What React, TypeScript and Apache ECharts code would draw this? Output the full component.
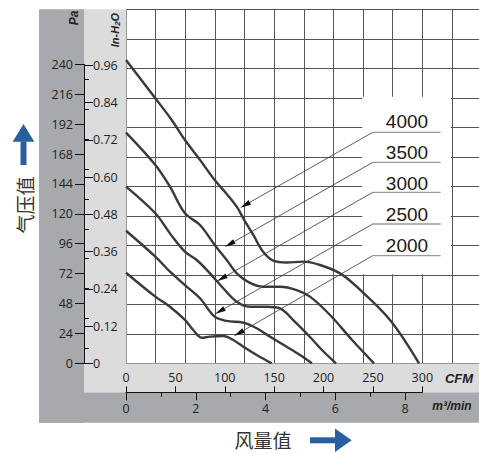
import React, { useEffect, useRef } from "react";
import * as echarts from "echarts";

// ---- data (CFM, Pa) ----
const SPEEDS = ["4000", "3500", "3000", "2500", "2000"];
const CURVE_4000 = [
  [0, 243.5], [29.7, 212.7], [46.3, 195.3], [59.7, 179.2], [74.9, 163.3], [89.8, 147.1],
  [102.0, 135.9], [112.1, 125.7], [119.8, 115.0], [128.9, 103.0], [139.0, 89.3], [149.1, 82.4],
  [162.7, 80.9], [179.5, 81.6], [196.4, 78.9], [216.7, 72.2], [233.6, 61.5], [267.3, 34.8], [296.7, 0],
];
const CURVE_3500 = [
  [0, 185.1], [29.7, 159.2], [44.5, 141.8], [59.7, 120.4], [74.9, 111.0], [89.8, 95.0],
  [102.0, 82.9], [112.1, 72.2], [125.5, 64.5], [139.0, 61.5], [155.9, 61.5], [172.8, 58.8],
  [186.3, 53.5], [206.6, 38.8], [228.9, 18.7], [251.1, 0],
];
const CURVE_3000 = [
  [0, 141.8], [29.7, 120.4], [44.5, 104.3], [59.7, 89.6], [71.6, 82.9], [85.0, 72.2],
  [98.5, 60.2], [112.1, 49.4], [125.5, 45.4], [142.5, 45.4], [155.9, 44.1], [171.1, 33.2],
  [186.3, 21.1], [198.4, 10.7], [212.6, 0],
];
const CURVE_2500 = [
  [0, 106.4], [29.7, 85.6], [44.5, 73.5], [59.7, 62.8], [74.9, 52.2], [89.8, 37.4],
  [102.0, 34.0], [118.8, 32.6], [132.3, 28.1], [145.8, 21.4], [162.7, 13.3], [176.2, 6.7], [188.3, 0],
];
const CURVE_2000 = [
  [0, 72.7], [29.7, 53.5], [44.5, 45.4], [59.7, 34.8], [68.1, 26.7], [76.6, 20.5],
  [85.0, 21.4], [98.5, 21.9], [108.6, 18.7], [118.8, 13.3], [132.3, 6.7], [147.5, 0],
];
const CURVES = [CURVE_4000, CURVE_3500, CURVE_3000, CURVE_2500, CURVE_2000];

// annotation anchors (CFM, Pa)
const LABEL_CFM = 284.5;
const LABEL_PA = [193.9, 169.2, 144.7, 119.8, 94.3];
const UNDERLINE_CFM = [249.8, 318.6];
const UNDERLINE_PA = [185.4, 161.3, 137.2, 111.8, 86.4];
const ARROW_TIPS = [[115.7, 124.8], [100.0, 93.3], [92.1, 65.9], [90.1, 39.6], [109.3, 21.9]];
const LEGEND_BOX = [[239.2, 214.0], [328.7, 71.4]];

// axes
const PA_MAX = 240;
const PA_STEP = 24;
const INH2O_MAX = 0.96;
const INH2O_STEP = 0.12;
const CFM_MAX = 300;
const CFM_STEP = 50;
const M3_MAX = 8;
const M3_STEP = 2;
const GRID_X_MAX = 357.41;
const GRID_X_STEP = 30;
const GRID_Y_STEP = 23.679;
const GRID_Y_MAX = GRID_Y_STEP * 12;

const TICK_FONT = { fontSize: 12.5, color: "#231f20", fontFamily: "Open Sans" };
const BLUE = "#2a5f9f";

export default function App() {
  const ref = useRef<HTMLDivElement>(null);
  useEffect(() => {
    const chart = echarts.init(ref.current!, undefined, { renderer: "svg" });
    const hiddenX = (g: number) => ({ gridIndex: g, type: "value", min: 0, max: 1, show: false });
    const hiddenY = (g: number) => ({ gridIndex: g, type: "value", min: 0, max: 1, show: false });
    const option: any = {
      animation: false,
      textStyle: { fontFamily: "Open Sans" },
      grid: [
        { left: 126, top: 9.3, width: 353, height: 354, outerBoundsMode: "none", containLabel: false },
        { left: 84, top: 64.3, width: 1, height: 299, outerBoundsMode: "none" },
        { left: 84, top: 65.35, width: 1, height: 297.95, outerBoundsMode: "none" },
        { left: 126, top: 391.3, width: 296.3, height: 1, outerBoundsMode: "none" },
        { left: 126, top: 391.3, width: 279.0, height: 1, outerBoundsMode: "none" },
      ],
      xAxis: [
        {
          gridIndex: 0, type: "value", min: 0, max: GRID_X_MAX, interval: GRID_X_STEP,
          axisLabel: { show: false }, axisTick: { show: false },
          axisLine: { show: true, lineStyle: { color: "#999", width: 1 } },
          splitLine: { show: true, lineStyle: { color: "#555", width: 1 } },
        },
        hiddenX(1),
        hiddenX(2),
        {
          gridIndex: 3, type: "value", min: 0, max: CFM_MAX, interval: CFM_STEP, position: "bottom",
          axisLine: { show: true, lineStyle: { color: "#111", width: 1 } },
          axisTick: { show: true, inside: true, length: 6, lineStyle: { color: "#111" } },
          axisLabel: { inside: true, margin: 8, ...TICK_FONT },
          splitLine: { show: false },
        },
        {
          gridIndex: 4, type: "value", min: 0, max: M3_MAX, interval: M3_STEP, position: "bottom",
          axisLine: { show: false },
          axisTick: { show: true, length: 8, lineStyle: { color: "#111" } },
          minorTick: { show: true, splitNumber: 2, length: 4.5, lineStyle: { color: "#111" } },
          axisLabel: { margin: 10, ...TICK_FONT },
          splitLine: { show: false }, minorSplitLine: { show: false },
        },
      ],
      yAxis: [
        {
          gridIndex: 0, type: "value", min: 0, max: GRID_Y_MAX, interval: GRID_Y_STEP,
          axisLabel: { show: false }, axisTick: { show: false },
          axisLine: { show: true, lineStyle: { color: "#999", width: 1 } },
          splitLine: { show: true, lineStyle: { color: "#555", width: 1 } },
        },
        {
          gridIndex: 1, type: "value", min: 0, max: PA_MAX, interval: PA_STEP, position: "left",
          axisLine: { show: true, lineStyle: { color: "#111", width: 1 } },
          axisTick: { show: true, length: 9, lineStyle: { color: "#111" } },
          axisLabel: { margin: 11, ...TICK_FONT },
          splitLine: { show: false },
        },
        {
          gridIndex: 1, type: "value", min: 0, max: PA_MAX, interval: PA_STEP, position: "left",
          axisLine: { show: false },
          axisTick: { show: false, inside: true },
          minorTick: { show: true, splitNumber: 2, length: 5, lineStyle: { color: "#111" } },
          axisLabel: { show: false },
          splitLine: { show: false }, minorSplitLine: { show: false },
        },
        {
          gridIndex: 2, type: "value", min: 0, max: INH2O_MAX, interval: INH2O_STEP, position: "left",
          axisLine: { show: false },
          axisTick: { show: true, inside: true, length: 9, lineStyle: { color: "#111" } },
          axisLabel: {
            inside: true, margin: 9, ...TICK_FONT,
            formatter: (v: number) => (v === 0 ? "0" : v.toFixed(2)),
          },
          splitLine: { show: false },
        },
        hiddenY(3),
        hiddenY(4),
      ],
      graphic: [
        { type: "rect", z: -10, shape: { x: 39, y: 9.3, width: 45, height: 413.4 }, style: { fill: "#a8a9ac" } },
        { type: "rect", z: -10, shape: { x: 39, y: 392.3, width: 440, height: 30.4 }, style: { fill: "#a8a9ac" } },
        { type: "rect", z: -10, shape: { x: 84, y: 9.3, width: 42, height: 383 }, style: { fill: "#dcdcdd" } },
        { type: "rect", z: -10, shape: { x: 84, y: 363.3, width: 395, height: 29 }, style: { fill: "#dcdcdd" } },
        {
          type: "text", x: 74, y: 18, rotation: Math.PI / 2, z: 5,
          style: { text: "Pa", fontSize: 12, fontWeight: "bold", fontStyle: "italic", fontFamily: "Liberation Sans", fill: "#222", align: "center", verticalAlign: "middle" },
        },
        {
          type: "text", x: 115, y: 30, rotation: Math.PI / 2, z: 5,
          style: {
            text: "{a|In-H}{b|2}{a|O}", align: "center", verticalAlign: "middle",
            rich: {
              a: { fontSize: 11, fontWeight: "bold", fontStyle: "italic", fontFamily: "Liberation Sans", fill: "#222" },
              b: { fontSize: 8, fontWeight: "bold", fontStyle: "italic", fontFamily: "Liberation Sans", fill: "#222", verticalAlign: "bottom", padding: [4, 0, 0, 0] },
            },
          },
        },
        {
          type: "text", x: 459, y: 378, z: 5,
          style: { text: "CFM", fontSize: 13, fontWeight: "bold", fontStyle: "italic", fontFamily: "Liberation Sans", fill: "#222", align: "center", verticalAlign: "middle" },
        },
        {
          type: "text", x: 452, y: 406, z: 5,
          style: { text: "m³/min", fontSize: 12, fontWeight: "bold", fontStyle: "italic", fontFamily: "Liberation Sans", fill: "#222", align: "center", verticalAlign: "middle" },
        },
        {
          type: "text", x: 24, y: 205, rotation: Math.PI / 2, z: 5,
          style: { text: "气压值", fontSize: 19, fontFamily: "Noto Sans CJK SC", fill: "#333", align: "center", verticalAlign: "middle" },
        },
        {
          type: "text", x: 263, y: 439, z: 5,
          style: { text: "风量值", fontSize: 19, fontFamily: "Noto Sans CJK SC", fill: "#333", align: "center", verticalAlign: "middle" },
        },
        { type: "polygon", z: 5, shape: { points: [[23.5, 124], [12.7, 141.7], [34.3, 141.7]] }, style: { fill: BLUE } },
        { type: "rect", z: 5, shape: { x: 20.5, y: 141.5, width: 6, height: 23.5 }, style: { fill: BLUE } },
        { type: "rect", z: 5, shape: { x: 310, y: 437.3, width: 25.5, height: 6 }, style: { fill: BLUE } },
        { type: "polygon", z: 5, shape: { points: [[351.7, 440.3], [335, 428.5], [335, 452.1]] }, style: { fill: BLUE } },
      ],
      series: [
        {
          type: "custom", xAxisIndex: 0, yAxisIndex: 0, z: 1, silent: true,
          data: [[0]],
          renderItem: (_p: any, api: any) => {
            const a = api.coord(LEGEND_BOX[0]);
            const b = api.coord(LEGEND_BOX[1]);
            return {
              type: "rect",
              shape: { x: a[0], y: a[1], width: b[0] - a[0], height: b[1] - a[1] },
              style: { fill: "#ffffff" },
            };
          },
        },
        ...CURVES.map((c, i) => ({
          type: "line", name: SPEEDS[i], xAxisIndex: 0, yAxisIndex: 0,
          data: c, smooth: 0.35, symbol: "none",
          lineStyle: { color: "#3a3a3a", width: 2.4 },
        })),
        {
          type: "custom", xAxisIndex: 0, yAxisIndex: 0, z: 3, silent: true,
          data: SPEEDS.map((_, i) => [i]),
          renderItem: (_p: any, api: any) => {
            const i = api.value(0);
            const tip = api.coord(ARROW_TIPS[i]);
            const ul = api.coord([UNDERLINE_CFM[0], UNDERLINE_PA[i]]);
            const ur = api.coord([UNDERLINE_CFM[1], UNDERLINE_PA[i]]);
            const lab = api.coord([LABEL_CFM, LABEL_PA[i]]);
            const dx = tip[0] - ul[0];
            const dy = tip[1] - ul[1];
            const len = Math.hypot(dx, dy);
            const ux = dx / len, uy = dy / len;
            const L = 11, W = 2.6;
            const base = [tip[0] - ux * L, tip[1] - uy * L];
            const p1 = [base[0] - uy * W, base[1] + ux * W];
            const p2 = [base[0] + uy * W, base[1] - ux * W];
            return {
              type: "group",
              children: [
                { type: "line", shape: { x1: ul[0], y1: ul[1], x2: ur[0], y2: ur[1] }, style: { stroke: "#9a9a9a", lineWidth: 1.3 } },
                { type: "line", shape: { x1: ul[0], y1: ul[1], x2: base[0], y2: base[1] }, style: { stroke: "#333", lineWidth: 0.8 } },
                { type: "polygon", shape: { points: [tip, p1, p2] }, style: { fill: "#111" } },
                {
                  type: "text",
                  style: {
                    text: SPEEDS[i], x: lab[0], y: lab[1], align: "center", verticalAlign: "middle",
                    fontSize: 19, fontFamily: "Liberation Sans", fill: "#1a1a1a",
                  },
                },
              ],
            };
          },
        },
      ],
    };
    chart.setOption(option);
    return () => chart.dispose();
  }, []);
  return (
    <div
      ref={ref}
      style={{ position: "absolute", left: 0, top: 0, width: 479, height: 454 }}
    />
  );
}
